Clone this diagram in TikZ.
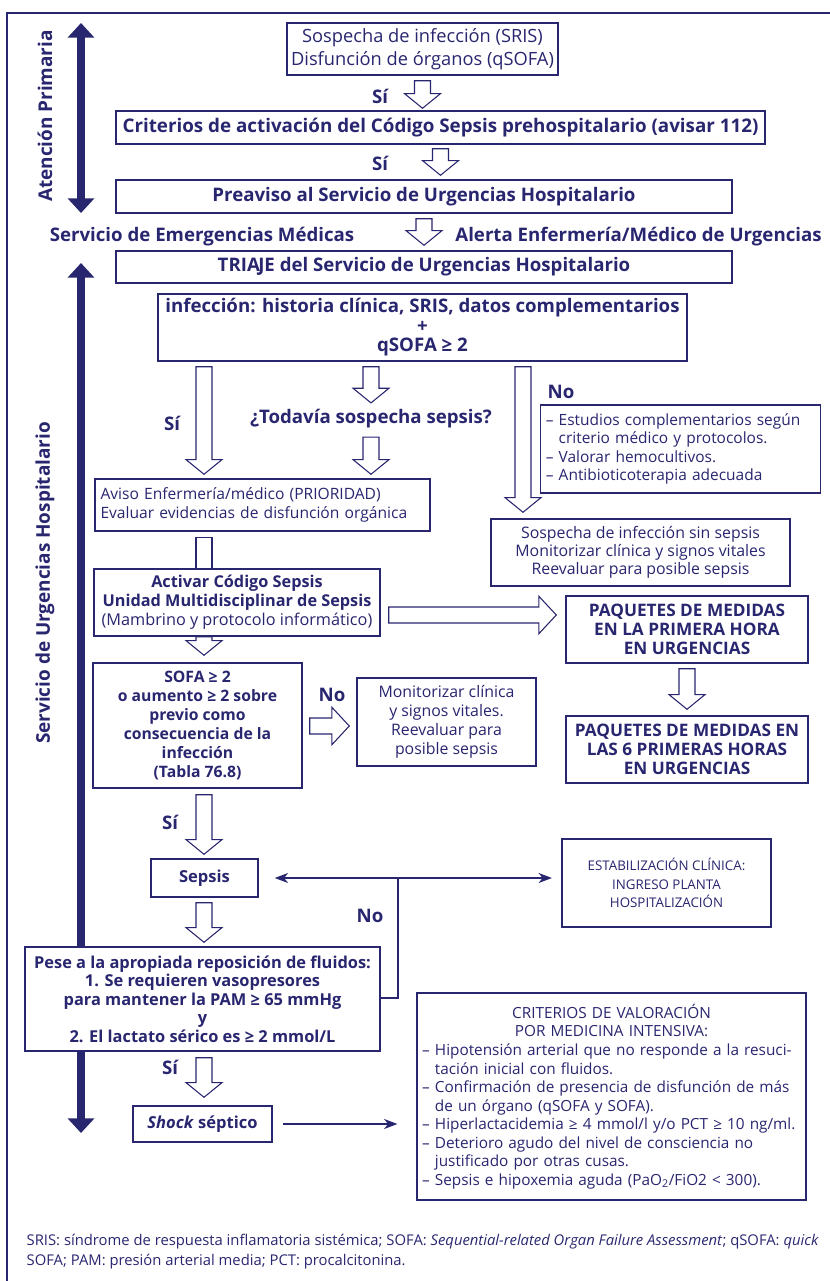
\documentclass[tikz,border=0pt]{standalone}
\usepackage{fontspec}
\setmainfont{Open Sans}
\usepackage{xcolor}
\definecolor{sepNavy}{RGB}{41,38,112}
\usepackage{tikz}
\usetikzlibrary{arrows.meta, calc}
\newcommand{\dashindent}{\hphantom{– }}
\tikzset{
	flowbox/.style={draw=sepNavy, line width=1.1pt, fill=white, text=sepNavy, inner sep=2pt, align=center},
	listbox/.style={flowbox, align=left, inner xsep=4pt},
	answer/.style={text=sepNavy, font=\fontsize{14}{16}\selectfont\bfseries},
	sidelabel/.style={text=sepNavy, rotate=90, font=\fontsize{14.2}{16}\selectfont\bfseries},
	sidearrow/.style={draw=sepNavy, line width=6pt, {Triangle[length=11pt,width=19.5pt]}-{Triangle[length=11pt,width=19.5pt]}},
	thinarrow/.style={draw=sepNavy, line width=1.1pt},
	hollowdown/.style={draw=sepNavy, fill=white, line width=0.8pt, to path={
		let \p1=(\tikztostart), \p2=(\tikztotarget) in
		(\x1-6pt,\y1) -- (\x1-6pt,\y2+11pt) -- (\x1-13.5pt,\y2+11pt) -- (\x1,\y2)
		-- (\x1+13.5pt,\y2+11pt) -- (\x1+6pt,\y2+11pt) -- (\x1+6pt,\y1) -- cycle}},
	hollowstub/.style={draw=sepNavy, fill=white, line width=0.8pt, to path={
		let \p1=(\tikztostart), \p2=(\tikztotarget) in
		(\x1-6pt,\y2) -- (\x1-6pt,\y1) -- (\x1+6pt,\y1) -- (\x1+6pt,\y2)}},
	hollowright/.style={draw=sepNavy, fill=white, line width=0.8pt, to path={
		let \p1=(\tikztostart), \p2=(\tikztotarget) in
		(\x1,\y1+6pt) -- (\x2-13pt,\y1+6pt) -- (\x2-13pt,\y1+14pt) -- (\x2,\y1)
		-- (\x2-13pt,\y1-14pt) -- (\x2-13pt,\y1-6pt) -- (\x1,\y1-6pt) -- cycle}},
}

\begin{document}
\begin{tikzpicture}[
		x=0.75pt, y=-0.75pt,
		>={Stealth[length=10pt,width=7.5pt,inset=3pt]}
	]
	\useasboundingbox (0,0) rectangle (830,1281);

	% frame
	\draw[sepNavy, line width=1.5pt] (7,1300) |- (850,13);

	% side arrows
	\coordinate (apTop) at (81,23);
	\coordinate (apBot) at (81,213);
	\coordinate (suTop) at (81,263);
	\coordinate (suBot) at (81,1133);
	\draw[sidearrow] (apTop) -- (apBot);
	\draw[sidearrow] (suTop) -- (suBot);
	\node[sidelabel] (aplabel) at (45,116) {Atención Primaria};
	\node[sidelabel] (sulabel) at (45,583) {Servicio de Urgencias Hospitalario};

	% columns of the flow
	\coordinate (colL) at (204,0);
	\coordinate (colM) at (371,0);
	\coordinate (colR) at (523,0);

	% Atencion primaria
	\node[flowbox, font=\fontsize{13.7}{17.3}\selectfont, minimum width=203.25pt, minimum height=39pt] (sosp) at (422.5,49)
		{Sospecha de infección (SRIS)\\Disfunción de órganos (qSOFA)};
	\node[flowbox, font=\fontsize{14.1}{16}\selectfont\bfseries, minimum width=486.75pt, minimum height=24.75pt] (crit) at (440.5,127.5)
		{Criterios de activación del Código Sepsis prehospitalario (avisar 112)};
	\node[flowbox, font=\fontsize{14}{16}\selectfont\bfseries, minimum width=462pt, minimum height=24.75pt] (preav) at (424,196.5)
		{Preaviso al Servicio de Urgencias Hospitalario};
	\node[answer] (si1) at (380,96) {Sí};
	\node[answer] (si2) at (380,163) {Sí};
	\node[answer] (emerg) at (202,237) {Servicio de Emergencias Médicas};
	\node[answer] (alerta) at (638.5,237) {Alerta Enfermería/Médico de Urgencias};

	% Urgencias hospitalarias
	\node[flowbox, font=\fontsize{14}{16}\selectfont\bfseries, minimum width=462pt, minimum height=24pt] (triaje) at (424,267)
		{TRIA\kern-1.2pt JE del Servicio de Urgencias Hospitalario};
	\node[flowbox, font=\fontsize{14}{14.6}\selectfont\bfseries, minimum width=396.75pt, minimum height=50.25pt] (infec) at (422.5,327.5)
		{infección: historia clínica, SRIS, datos complementarios\\+\\qSOFA ≥ 2};
	\node[answer] (todavia) at (371,419) {¿Todavía sospecha sepsis?};
	\node[answer] (si3) at (172,423) {Sí};
	\node[answer] (no1) at (561,392) {No};
	\node[listbox, font=\fontsize{11.6}{13.7}\selectfont, text width=202pt, minimum height=66pt] (estud) at (680.5,449)
		{– Estudios complementarios según\\\dashindent criterio médico y protocolos.\\– Valorar hemocultivos.\\– Antibioticoterapia adecuada};
	\node[listbox, font=\fontsize{11.7}{14.8}\selectfont, text width=243pt, minimum height=39pt] (aviso) at (262.5,505)
		{Aviso Enfermería/médico (PRIORIDAD)\\Evaluar evidencias de disfunción orgánica};
	\node[flowbox, font=\fontsize{11.9}{13.6}\selectfont, minimum width=224.25pt, minimum height=50.25pt] (sinsep) at (640.5,552.5)
		{Sospecha de infección sin sepsis\\Monitorizar clínica y signos vitales\\Reevaluar para posible sepsis};
	\node[flowbox, font=\fontsize{12.2}{14.2}\selectfont, minimum width=214.5pt, minimum height=50.25pt] (activ) at (237,602.5)
		{\textbf{Activar Código Sepsis}\\\textbf{Unidad Multidisciplinar de Sepsis}\\(Mambrino y protocolo informático)};
	\node[flowbox, font=\fontsize{12.9}{14}\selectfont\bfseries, minimum width=181.5pt, minimum height=50.25pt] (paqA) at (687,629.5)
		{PAQUETES DE MEDIDAS\\EN LA PRIMERA HORA\\EN URGENCIAS};
	\node[flowbox, font=\fontsize{11.8}{14.2}\selectfont\bfseries, minimum width=156.75pt, minimum height=93.75pt] (sofa) at (197.5,725.5)
		{SOFA ≥ 2\\o aumento ≥ 2 sobre\\previo como\\consecuencia de la\\infección\\(Tabla 76.8)};
	\node[answer] (no2) at (332,695) {No};
	\node[flowbox, font=\fontsize{11.9}{14.2}\selectfont, minimum width=134.25pt, minimum height=66pt] (monit) at (446.5,722)
		{Monitorizar clínica\\y signos vitales.\\Reevaluar para\\posible sepsis};
	\node[flowbox, font=\fontsize{12.9}{14}\selectfont\bfseries, minimum width=181.5pt, minimum height=50.25pt] (paqB) at (687,749.5)
		{PAQUETES DE MEDIDAS EN\\LAS 6 PRIMERAS HORAS\\EN URGENCIAS};
	\node[answer] (si4) at (170,822) {Sí};
	\node[flowbox, font=\fontsize{12.4}{14}\selectfont\bfseries, minimum width=80.25pt, minimum height=28.5pt] (sepsis) at (204.5,878)
		{Sepsis};
	\node[flowbox, font=\fontsize{10}{13.7}\selectfont, minimum width=156.75pt, minimum height=66pt] (estab) at (666.5,883)
		{ESTABILIZACIÓN CLÍNICA:\\INGRESO PLANTA\\HOSPITALIZACIÓN};
	\node[answer] (no3) at (370,916) {No};
	\node[flowbox, font=\fontsize{12.3}{13.9}\selectfont\bfseries, minimum width=266.25pt, minimum height=78pt] (pese) at (202.5,999)
		{Pese a la apropiada reposición de fluidos:\\1. Se requieren vasopresores\\para mantener la PAM ≥ 65 mmHg\\y\\2. El lactato sérico es ≥ 2 mmol/L};
	\node[answer] (si5) at (170,1067) {Sí};
	\node[flowbox, font=\fontsize{12.4}{14}\selectfont\bfseries, minimum width=104.25pt, minimum height=27pt] (shock) at (202.5,1124)
		{\textit{Shock} séptico};
	\node[listbox, font=\fontsize{11.5}{13.9}\selectfont, text width=284pt, minimum height=155.25pt] (valor) at (611.5,1096.5)
		{\makebox[\linewidth][c]{CRITERIOS DE VALORACIÓN}\\
		\makebox[\linewidth][c]{POR MEDICINA INTENSIVA:}\\
		– Hipotensión arterial que no responde a la resuci-\\\dashindent tación inicial con fluidos.\\
		– Confirmación de presencia de disfunción de más\\\dashindent de un órgano (qSOFA y SOFA).\\
		– Hiperlactacidemia ≥ 4 mmol/l y/o PCT ≥ 10 ng/ml.\\
		– Deterioro agudo del nivel de consciencia no\\\dashindent justificado por otras cusas.\\
		– Sepsis e hipoxemia aguda (PaO\textsubscript{2}/FiO2 < 300).};

	% footnote
	\node[text=sepNavy, font=\fontsize{11.1}{15}\selectfont, align=left, anchor=west] (foot) at (22,1252)
		{SRIS: síndrome de respuesta inflamatoria sistémica; SOFA: \textit{Sequential-related Organ Failure Assessment}; qSOFA: \textit{quick}\\SOFA; PAM: presión arterial media; PCT: procalcitonina.};

	% hollow arrows
	\draw[hollowdown] ($(sosp.south)+(0,5)$) to ($(crit.north)+(0,-2)$);
	\draw[hollowdown] ($(crit.south)+(0,4)$) to ($(preav.north)+(0,-4)$);
	\draw[hollowdown] ($(preav.south)+(0,5)$) to ($(triaje.north)+(0,-5)$);
	\draw[hollowdown] ($(colL |- infec.south)+(0,5)$) to ($(colL |- aviso.north)+(0,-4)$);
	\draw[hollowdown] ($(colM |- infec.south)+(0,5)$) to ($(colM |- todavia.north)+(0,-2)$);
	\draw[hollowdown] ($(colM |- todavia.south)+(0,4)$) to ($(colM |- aviso.north)+(0,-4)$);
	\draw[hollowdown] ($(colR |- infec.south)+(0,5)$) to ($(colR |- sinsep.north)+(0,-6)$);
	\draw[hollowstub] ($(colL |- aviso.south)+(0,6)$) to (colL |- activ.north);
	\draw[hollowdown] (colL |- activ.south) to ($(colL |- sofa.north)+(0,-7)$);
	\draw[hollowdown] ($(colL |- sofa.south)+(0,6)$) to ($(colL |- sepsis.north)+(0,-4)$);
	\draw[hollowdown] ($(colL |- sepsis.south)+(0,5)$) to ($(colL |- pese.north)+(0,-4)$);
	\draw[hollowdown] ($(colL |- pese.south)+(0,6)$) to ($(colL |- shock.north)+(0,-8)$);
	\draw[hollowdown] ($(paqA.south)+(0,5)$) to ($(paqB.north)+(0,-6)$);
	\draw[hollowright] ($(activ.east |- paqA.west)+(8,-14.5)$) to ($(paqA.west)+(-9,-14.5)$);
	\draw[hollowright] ($(sofa.east)+(7,0.5)$) to ($(monit.west)+(-7,0.5)$);

	% thin connectors
	\coordinate (noJoin) at (398,878);
	\draw[thinarrow, <->, shorten <=12pt, shorten >=7pt] (sepsis.east) -- (estab.west |- sepsis.east);
	\draw[thinarrow] (pese.east |- 0,998) -| (noJoin);
	\draw[thinarrow, ->, shorten <=8pt, shorten >=14pt] (shock.east) -- (valor.west |- shock.east);
\end{tikzpicture}
\end{document}
